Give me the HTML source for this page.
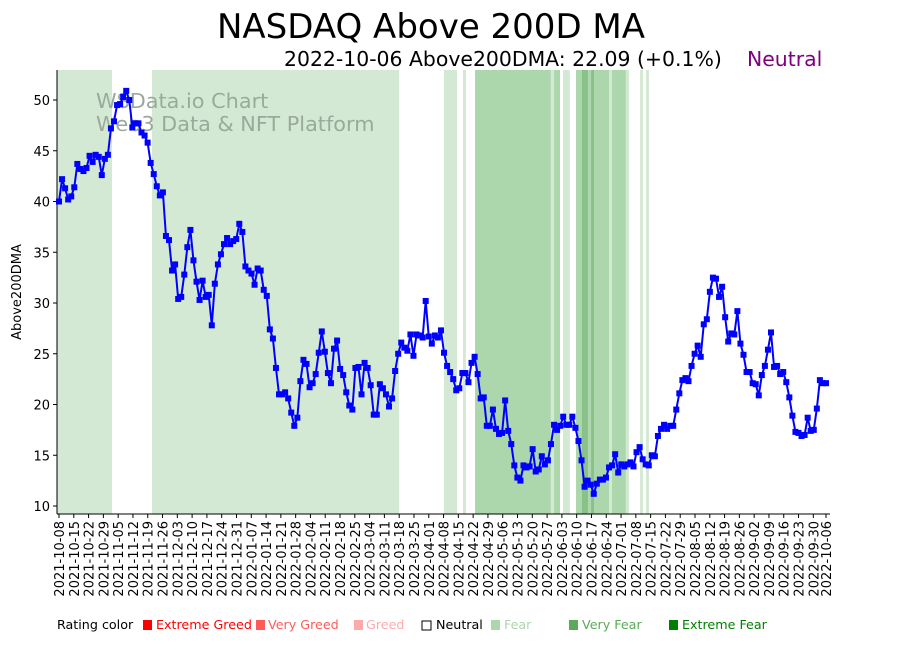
<!DOCTYPE html>
<html><head><meta charset="utf-8"><style>
body{margin:0;background:#fff;width:897px;height:641px;overflow:hidden;font-family:"Liberation Sans","DejaVu Sans",sans-serif}
</style></head><body>
<svg id="chart" width="897" height="641" xmlns="http://www.w3.org/2000/svg" font-family="DejaVu Sans, Liberation Sans, sans-serif">
<text x="431" y="38" font-size="34" text-anchor="middle">NASDAQ Above 200D MA</text>
<text x="284" y="66" font-size="20.4">2022-10-06 Above200DMA: 22.09 (+0.1%)</text>
<text x="747" y="66" font-size="20.4" fill="#800080">Neutral</text>
<g id="bands"></g>
<text x="96" y="108" font-size="20.8" fill="#9aaa9a">WSData.io Chart</text>
<text x="96" y="131" font-size="20.8" fill="#9aaa9a">Web3 Data &amp; NFT Platform</text>
<g id="axes"></g>
<g id="series"></g>
<text transform="translate(21,292) rotate(-90)" font-size="13" text-anchor="middle">Above200DMA</text>
<g font-size="12.7">
<text x="57" y="629">Rating color</text>
<rect x="143" y="620" width="9" height="10" fill="#ff0000"/><text x="156" y="629" fill="#ff0000">Extreme Greed</text>
<rect x="256" y="620" width="9" height="10" fill="#ff5a5a"/><text x="268" y="629" fill="#ff5a5a">Very Greed</text>
<rect x="354" y="620" width="9" height="10" fill="#ffaaaa"/><text x="366" y="629" fill="#ffaaaa">Greed</text>
<rect x="422" y="621" width="9" height="9" fill="#fff" stroke="#000"/><text x="436" y="629">Neutral</text>
<rect x="491" y="620" width="9" height="10" fill="#acd6ac"/><text x="504" y="629" fill="#acd6ac">Fear</text>
<rect x="569" y="620" width="9" height="10" fill="#5aaa5a"/><text x="582" y="629" fill="#5aaa5a">Very Fear</text>
<rect x="669" y="620" width="9" height="10" fill="#008000"/><text x="682" y="629" fill="#008000">Extreme Fear</text>
</g>
</svg>
<script>
const values = [40.0,42.2,41.3,40.2,40.5,41.4,43.7,43.2,43.0,43.3,44.5,43.9,44.6,44.4,42.6,44.2,44.6,
47.2,47.9,49.5,49.6,50.3,50.9,50.0,47.3,47.7,47.7,46.8,46.5,45.8,43.8,42.7,41.5,40.6,40.9,36.6,
36.2,33.2,33.8,30.4,30.6,32.8,35.5,37.2,34.2,32.1,30.3,32.2,30.6,30.8,27.8,31.9,33.8,34.8,35.8,
36.4,35.8,36.1,36.3,37.8,37.0,33.6,33.2,32.9,31.8,33.4,33.2,31.3,30.7,27.4,26.5,23.6,21.0,
21.0,21.2,20.6,19.2,17.9,18.7,22.3,24.4,24.0,21.7,22.1,23.0,25.1,27.2,25.2,23.1,22.1,25.5,26.3,23.5,22.9,
21.2,19.9,19.5,23.6,23.7,21.0,24.1,23.6,21.9,19.0,19.0,22.0,21.6,21.0,19.8,20.6,23.3,25.0,26.1,
25.6,25.3,26.9,24.8,26.9,26.8,26.6,30.2,26.7,26.0,26.8,26.6,27.3,25.1,23.8,23.2,22.5,21.4,21.6,
23.1,23.1,22.2,24.1,24.7,23.0,20.6,20.7,17.9,17.9,19.5,17.6,17.1,17.2,20.4,17.4,16.1,14.0,12.8,12.5,
14.0,13.8,13.9,15.6,13.4,13.6,14.9,14.1,14.5,16.1,18.0,17.5,17.9,18.8,18.0,18.0,18.8,17.7,16.4,14.5,
11.9,12.5,12.1,11.2,12.2,12.6,12.6,12.8,13.8,14.0,15.1,13.3,14.1,13.9,14.1,14.3,13.9,15.3,15.8,14.6,
14.1,14.0,15.0,14.9,16.9,17.6,18.0,17.6,17.9,17.9,19.5,21.1,22.4,22.6,22.3,23.8,25.0,25.8,24.7,
27.9,28.4,31.1,32.5,32.4,30.6,31.6,28.6,26.2,27.0,26.9,29.2,26.0,24.9,23.2,23.2,22.1,22.0,20.9,
22.9,23.8,25.4,27.1,23.7,23.8,23.0,23.2,22.2,20.7,18.9,17.3,17.2,16.9,17.0,18.7,17.4,17.5,19.6,22.4,22.1,22.1];
const yTicks = [10,15,20,25,30,35,40,45,50];
const startDate = "2021-10-08", endDate = "2022-10-06";
// bands in days since start
const bandStarts = [-1,44,182.2,191.2,196.9,232.8,234.3,238.5,244.7,247.5,250.4,251.8,253.2,260.3,261.7,268.3,275,277.8];
const bandEnds =   [25.1,161,188.4,192.6,232.8,234.3,237.1,241.8,247.5,250.4,251.8,253.2,260.3,261.7,268.3,269.8,276.4,279.2];
const bandLevels = [1,1,1,1,2,1,2,1,2,3,2,3,2,1,2,1,1,1];
const ns="http://www.w3.org/2000/svg";
const X0=57,X1=830,Y0=514,Y1=70;
const dayMs=86400000, t0=new Date(startDate+"T00:00:00Z").getTime(), tEnd=new Date(endDate+"T00:00:00Z").getTime();
const nDays=(tEnd-t0)/dayMs;
function xDay(d){return 59+d*(826-59)/nDays;}
function yv(v){return 506-(v-10)*(506-100)/40;}
function mk(tag,attrs,parent){const e=document.createElementNS(ns,tag);for(const k in attrs)e.setAttribute(k,attrs[k]);parent.appendChild(e);return e;}
const bands=document.getElementById('bands'),axes=document.getElementById('axes'),series=document.getElementById('series');
const bandColors=["","#d4e9d4","#acd6ac","#88c288"];
for(let i=0;i<bandStarts.length;i++){
  const a=Math.max(X0,xDay(bandStarts[i])),b=Math.min(X1,xDay(bandEnds[i]));
  const r=mk('rect',{x:a,y:Y1,width:Math.max(0,b-a),height:Y0-Y1,fill:bandColors[bandLevels[i]]},bands);
  
  
}
let l=mk('line',{x1:X0,y1:Y1,x2:X0,y2:Y0,stroke:'#000','stroke-width':1},axes);


l=mk('line',{x1:X0,y1:Y0,x2:X1,y2:Y0,stroke:'#000','stroke-width':1},axes);


yTicks.forEach(v=>{
  const y=yv(v);
  mk('line',{x1:X0-4,y1:y,x2:X0,y2:y,stroke:'#000'},axes);
  const t=mk('text',{x:X0-7,y:y+5,'font-size':13,'text-anchor':'end'},axes);
  t.textContent=v;
  
  
});
const tickDays=[];for(let d=0;d<=nDays;d+=7)tickDays.push(d);tickDays.push(nDays);
tickDays.forEach(d=>{
  const x=xDay(d);
  mk('line',{x1:x,y1:Y0,x2:x,y2:Y0+4,stroke:'#000'},axes);
  const s=new Date(t0+d*dayMs).toISOString().slice(0,10);
  const t=mk('text',{transform:`translate(${x+5},${Y0+7}) rotate(-90)`,'font-size':13,'text-anchor':'end'},axes);
  t.textContent=s;
  
  
});
const pts=values.map((v,i)=>[xDay(i*nDays/(values.length-1)),yv(v)]);
const pl=mk('polyline',{points:pts.map(p=>p.join(',')).join(' '),fill:'none',stroke:'#0000ff','stroke-width':2},series);


pts.forEach(p=>{
  const r=mk('rect',{x:p[0]-3,y:p[1]-3,width:6,height:6,fill:'#0000ff'},series);
  
  
});
</script>
</body></html>
